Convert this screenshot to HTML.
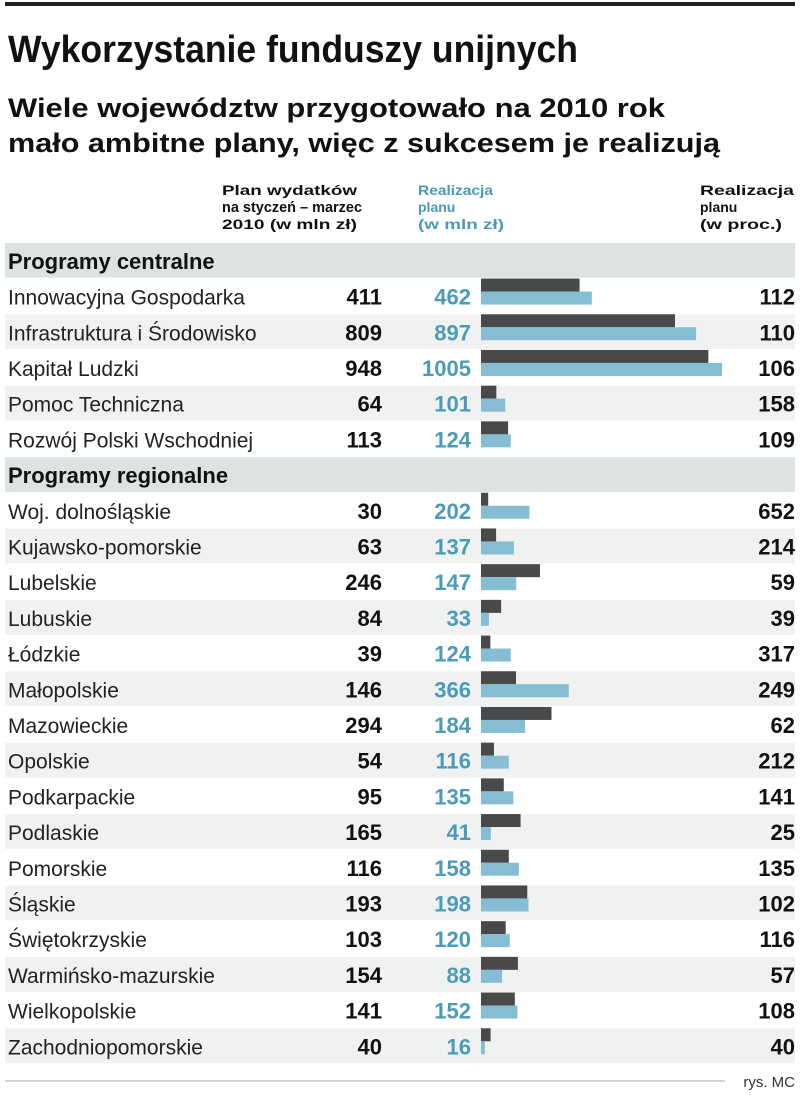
<!DOCTYPE html>
<html><head><meta charset="utf-8"><style>
body{margin:0;background:#fff;}
svg{display:block;font-family:"Liberation Sans",sans-serif;}
</style></head><body>
<svg id="chart" width="805" height="1095" viewBox="0 0 805 1095">
<rect x="5" y="2" width="790" height="4" fill="#222"/>
<text x="8" y="62" font-size="38" font-weight="bold" textLength="570" lengthAdjust="spacingAndGlyphs" fill="#111">Wykorzystanie funduszy unijnych</text>
<text x="8" y="117" font-size="27" font-weight="bold" textLength="657" lengthAdjust="spacingAndGlyphs" fill="#111">Wiele województw przygotowało na 2010 rok</text>
<text x="8" y="152" font-size="27" font-weight="bold" textLength="712" lengthAdjust="spacingAndGlyphs" fill="#111">mało ambitne plany, więc z sukcesem je realizują</text>
<g font-size="14" font-weight="bold">
<text x="222" y="195" textLength="135" lengthAdjust="spacingAndGlyphs" fill="#111">Plan wydatków</text>
<text x="222" y="212" font-size="15" textLength="140" lengthAdjust="spacingAndGlyphs" fill="#111">na styczeń – marzec</text>
<text x="222" y="229" textLength="135" lengthAdjust="spacingAndGlyphs" fill="#111">2010 (w mln zł)</text>
<text x="418" y="195" textLength="75" lengthAdjust="spacingAndGlyphs" fill="#4a9bb8">Realizacja</text>
<text x="418" y="212" fill="#4a9bb8">planu</text>
<text x="418" y="229" textLength="86" lengthAdjust="spacingAndGlyphs" fill="#4a9bb8">(w mln zł)</text>
<text x="700" y="195" textLength="94" lengthAdjust="spacingAndGlyphs" fill="#111">Realizacja</text>
<text x="700" y="212" fill="#111">planu</text>
<text x="700" y="229" textLength="82" lengthAdjust="spacingAndGlyphs" fill="#111">(w proc.)</text>
</g>
<g id="rows"></g>
<line x1="5" y1="1081" x2="725" y2="1081" stroke="#aaa" stroke-width="1"/>
<text x="795" y="1087" text-anchor="end" font-size="15" fill="#333">rys. MC</text>
</svg>
<script>
const labels=["Programy centralne","Innowacyjna Gospodarka","Infrastruktura i Środowisko","Kapitał Ludzki","Pomoc Techniczna","Rozwój Polski Wschodniej","Programy regionalne","Woj. dolnośląskie","Kujawsko-pomorskie","Lubelskie","Lubuskie","Łódzkie","Małopolskie","Mazowieckie","Opolskie","Podkarpackie","Podlaskie","Pomorskie","Śląskie","Świętokrzyskie","Warmińsko-mazurskie","Wielkopolskie","Zachodniopomorskie"];
const plan=[null,411,809,948,64,113,null,30,63,246,84,39,146,294,54,95,165,116,193,103,154,141,40];
const real=[null,462,897,1005,101,124,null,202,137,147,33,124,366,184,116,135,41,158,198,120,88,152,16];
const pct=[null,112,110,106,158,109,null,652,214,59,39,317,249,62,212,141,25,135,102,116,57,108,40];
const NS="http://www.w3.org/2000/svg";
const g=document.getElementById('rows');
const x0=481, k=241/1005, top0=243, rh=35.7;
function xs(v){return v*k;}
function mk(t,a){const e=document.createElementNS(NS,t);for(const n in a)e.setAttribute(n,a[n]);g.appendChild(e);return e;}
let sub=0;
labels.forEach((lab,i)=>{
  const y=top0+i*rh, cy=y+rh/2;
  if(plan[i]===null){
    const r=mk('rect',{x:5,y:y,width:790,height:rh-1,fill:'#dde3e3'});
    
    
    const t=mk('text',{x:8,y:cy+8,'font-size':22,'font-weight':'bold',fill:'#111'});
    t.textContent=lab;
    
    
    sub=0;return;
  }
  sub++;
  if(sub%2===0){
    const r=mk('rect',{x:5,y:y,width:790,height:rh-1,fill:'#f0f2f2'});
    
    
  }
  const t=mk('text',{x:8,y:cy+8,'font-size':21,fill:'#222'});
  t.textContent=lab;
  
  
  const p=mk('text',{x:382,y:cy+8,'font-size':22,'font-weight':'bold','text-anchor':'end',fill:'#111'});
  p.textContent=plan[i];
  
  
  const rv=mk('text',{x:471,y:cy+8,'font-size':22,'font-weight':'bold','text-anchor':'end',fill:'#4a9bb8'});
  rv.textContent=real[i];
  
  
  const b1=mk('rect',{x:x0,y:cy-18,width:xs(plan[i]),height:13,fill:'#48494b'});
  
  
  const b2=mk('rect',{x:x0,y:cy-5,width:xs(real[i]),height:13,fill:'#86bdd2'});
  
  
  const pc=mk('text',{x:795,y:cy+8,'font-size':22,'font-weight':'bold','text-anchor':'end',fill:'#111'});
  pc.textContent=pct[i];
  
  
});
</script>
</body></html>
